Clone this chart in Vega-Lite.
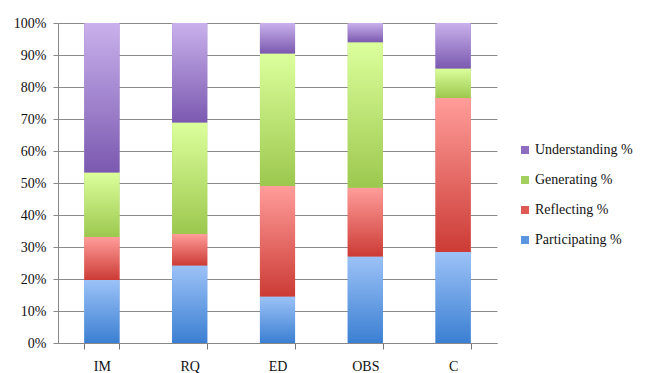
{
  "$schema": "https://vega.github.io/schema/vega-lite/v6.json",
  "width": 439,
  "height": 320,
  "autosize": {"type": "none"},
  "padding": {"left": 58, "top": 23, "right": 155, "bottom": 30},
  "background": "white",
  "config": {
    "font": "Liberation Serif",
    "view": {"stroke": null},
    "axis": {"labelFont": "Liberation Serif", "labelFontSize": 14, "labelColor": "#111", "domainColor": "#888", "tickColor": "#888", "gridColor": "#8a8a8a"},
    "axisX": {"ticks": true, "tickSize": 6, "tickColor": "#777", "tickBand": "extent"},
    "legend": {"labelFont": "Liberation Serif", "labelFontSize": 14, "labelColor": "#111"}
  },
  "data": {
    "values": [
      {"cat": "IM", "series": "Participating %", "ord": 1, "value": 19.7},
      {"cat": "IM", "series": "Reflecting %", "ord": 2, "value": 13.4},
      {"cat": "IM", "series": "Generating %", "ord": 3, "value": 20.2},
      {"cat": "IM", "series": "Understanding %", "ord": 4, "value": 46.7},
      {"cat": "RQ", "series": "Participating %", "ord": 1, "value": 24.2},
      {"cat": "RQ", "series": "Reflecting %", "ord": 2, "value": 9.9},
      {"cat": "RQ", "series": "Generating %", "ord": 3, "value": 34.8},
      {"cat": "RQ", "series": "Understanding %", "ord": 4, "value": 31.1},
      {"cat": "ED", "series": "Participating %", "ord": 1, "value": 14.5},
      {"cat": "ED", "series": "Reflecting %", "ord": 2, "value": 34.6},
      {"cat": "ED", "series": "Generating %", "ord": 3, "value": 41.4},
      {"cat": "ED", "series": "Understanding %", "ord": 4, "value": 9.5},
      {"cat": "OBS", "series": "Participating %", "ord": 1, "value": 27.0},
      {"cat": "OBS", "series": "Reflecting %", "ord": 2, "value": 21.5},
      {"cat": "OBS", "series": "Generating %", "ord": 3, "value": 45.5},
      {"cat": "OBS", "series": "Understanding %", "ord": 4, "value": 6.0},
      {"cat": "C", "series": "Participating %", "ord": 1, "value": 28.4},
      {"cat": "C", "series": "Reflecting %", "ord": 2, "value": 48.2},
      {"cat": "C", "series": "Generating %", "ord": 3, "value": 9.2},
      {"cat": "C", "series": "Understanding %", "ord": 4, "value": 14.2}
    ]
  },
  "transform": [
    {"stack": "value", "groupby": ["cat"], "sort": [{"field": "ord", "order": "ascending"}], "as": ["y0", "y1"]}
  ],
  "encoding": {
    "x": {
      "field": "cat", "type": "nominal", "sort": ["IM", "RQ", "ED", "OBS", "C"],
      "scale": {"paddingInner": 0.6, "paddingOuter": 0.3},
      "axis": {"title": null, "labelAngle": 0, "ticks": true, "tickBand": "extent", "tickSize": 6, "tickColor": "#777", "tickWidth": 1, "tickOpacity": 1, "labelPadding": 10, "domainColor": "#888"}
    },
    "y": {
      "field": "y0", "type": "quantitative", "scale": {"domain": [0, 100]},
      "axis": {"title": null, "values": [0,10,20,30,40,50,60,70,80,90,100], "labelExpr": "datum.value + '%'", "tickSize": 5, "labelPadding": 7, "grid": true}
    },
    "y2": {"field": "y1"}
  },
  "layer": [
    {
      "mark": {"type": "bar"},
      "encoding": {
        "color": {
          "field": "series", "type": "nominal",
          "scale": {"domain": ["Understanding %", "Generating %", "Reflecting %", "Participating %"], "range": ["#8e6cbf", "#a3cf5c", "#e05a55", "#5b95e0"]},
          "legend": {"title": null, "orient": "none", "legendX": 460, "legendY": 120, "symbolType": "square", "symbolSize": 64, "symbolStrokeWidth": 0, "labelFont": "Liberation Serif", "labelFontSize": 14, "labelColor": "#111", "labelOffset": 3, "rowPadding": 16, "padding": 0}
        }
      }
    },
    {
      "transform": [{"filter": "datum.series === 'Participating %'"}],
      "mark": {"type": "bar", "color": {"gradient": "linear", "x1": 0, "y1": 0, "x2": 0, "y2": 1, "stops": [{"offset": 0, "color": "#9cc2f7"}, {"offset": 1, "color": "#3b7fd2"}]}}
    },
    {
      "transform": [{"filter": "datum.series === 'Reflecting %'"}],
      "mark": {"type": "bar", "color": {"gradient": "linear", "x1": 0, "y1": 0, "x2": 0, "y2": 1, "stops": [{"offset": 0, "color": "#ff9d9a"}, {"offset": 1, "color": "#cc3b35"}]}}
    },
    {
      "transform": [{"filter": "datum.series === 'Generating %'"}],
      "mark": {"type": "bar", "color": {"gradient": "linear", "x1": 0, "y1": 0, "x2": 0, "y2": 1, "stops": [{"offset": 0, "color": "#dcff9c"}, {"offset": 1, "color": "#9cc84e"}]}}
    },
    {
      "transform": [{"filter": "datum.series === 'Understanding %'"}],
      "mark": {"type": "bar", "color": {"gradient": "linear", "x1": 0, "y1": 0, "x2": 0, "y2": 1, "stops": [{"offset": 0, "color": "#c9b1ec"}, {"offset": 1, "color": "#7b59b0"}]}}
    }
  ]
}
